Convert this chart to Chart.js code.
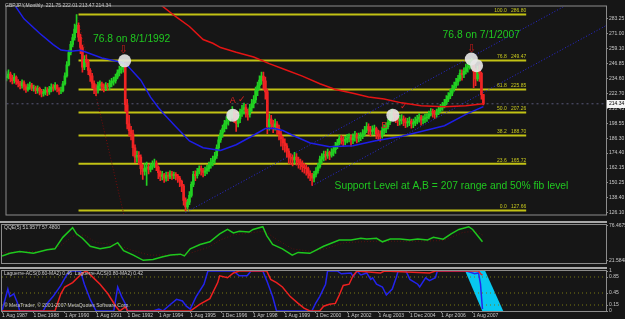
<!DOCTYPE html>
<html>
<head>
<meta charset="utf-8">
<script src="https://cdn.jsdelivr.net/npm/chart.js@4.4.1/dist/chart.umd.min.js"></script>
<style>
  html, body { margin: 0; padding: 0; background: #161616; }
  #wrap { position: relative; width: 625px; height: 319px; background: #161616; overflow: hidden; }
  canvas { position: absolute; left: 0; }
</style>
</head>
<body>
<div id="wrap">
  <canvas id="main" width="625" height="221" style="top:0px"></canvas>
  <canvas id="qqe" width="625" height="46" style="top:221px"></canvas>
  <canvas id="lag" width="625" height="52" style="top:267px"></canvas>
</div>
<script>
// monthly GBPJPY bars, Aug 1987 .. Jan 2008 (bar index 0 = Aug 1987)
const firstOpen = 235.5;
const closes = [
  236.8,238.5,235.0,233.2,236.0,232.5,230.8,229.0,231.5,228.4,226.0,227.8,
  229.5,227.0,227.2,225.0,226.8,224.5,222.8,223.6,225.5,224.0,226.2,228.0,
  227.0,229.3,226.5,224.8,225.0,230.5,237.0,246.0,256.0,262.5,268.0,275.0,
  278.0,268.5,260.0,244.0,250.5,248.0,241.5,237.0,231.0,227.0,225.5,229.0,
  230.5,228.0,227.0,229.5,228.2,231.0,232.5,233.0,236.0,239.5,242.0,243.5,
  245.0,213.6,198.0,192.6,190.0,178.7,171.0,172.6,171.0,161.7,159.4,162.0,
  163.0,161.0,163.5,164.8,166.0,163.0,158.5,155.5,156.8,154.0,156.2,155.5,
  157.5,156.0,157.0,155.8,154.0,151.5,147.8,136.0,130.7,134.5,140.0,149.0,
  157.0,156.0,159.4,161.7,160.2,158.6,160.0,161.7,164.5,167.0,168.7,172.0,
  178.7,185.0,190.5,194.2,198.0,200.5,203.5,206.0,208.0,203.5,198.5,202.0,
  207.0,209.5,211.3,208.0,205.8,211.0,214.5,217.4,225.0,229.0,233.5,236.8,
  233.0,224.0,195.8,202.0,198.0,195.8,198.0,194.5,190.0,186.0,182.6,180.3,
  176.0,171.0,170.0,168.7,171.0,169.0,167.0,165.5,163.3,162.5,161.7,157.8,
  156.0,154.0,157.0,160.0,163.3,169.5,171.0,173.3,172.0,174.9,172.6,175.0,
  177.2,180.0,182.6,186.5,185.0,184.0,185.5,186.5,187.2,185.0,187.0,188.8,
  186.5,187.5,188.0,190.0,192.7,195.8,193.5,192.0,193.0,194.2,190.0,189.0,
  188.0,192.7,194.0,195.8,199.0,203.5,206.6,205.0,203.5,200.4,201.5,202.0,
  200.5,198.9,199.5,200.4,198.0,199.0,200.4,202.0,203.5,201.0,202.0,203.0,
  203.5,206.0,208.0,207.0,205.8,207.5,209.7,211.0,212.8,215.0,218.0,220.6,
  223.0,226.7,229.0,232.0,234.5,239.1,238.0,240.7,243.8,245.0,246.9,248.4,
  240.7,234.5,242.0,239.0,221.75,214.34
];
const highs = [
  240.5,242.0,240.0,237.5,238.8,237.0,234.0,232.5,233.8,233.0,230.0,230.5,
  232.0,231.0,229.5,228.8,229.0,228.0,226.0,226.0,228.0,227.5,228.5,230.5,
  230.0,231.5,230.0,227.5,228.0,232.5,239.5,248.5,258.0,265.0,271.0,279.0,
  286.8,280.0,271.0,262.0,253.5,254.0,250.0,243.0,239.0,233.0,230.0,232.0,
  233.0,232.0,230.5,231.5,231.0,233.5,235.0,236.0,238.5,242.0,245.0,247.0,
  249.5,247.0,218.0,205.0,196.0,193.0,181.0,176.0,175.5,173.0,165.0,166.0,
  167.0,165.5,166.0,168.0,169.5,168.0,164.0,160.0,159.5,158.0,159.0,159.0,
  160.0,159.5,159.0,158.5,157.0,155.5,152.5,149.0,138.0,137.0,143.0,151.0,
  159.5,160.0,162.0,164.0,164.0,162.0,163.0,164.5,167.0,170.0,172.0,175.0,
  181.0,188.0,193.0,197.0,201.0,204.0,207.0,209.5,212.0,209.0,206.0,205.0,
  210.0,213.0,215.0,214.0,210.0,214.0,218.0,221.0,228.0,232.0,237.0,240.0,
  240.0,236.0,226.0,206.0,205.0,201.0,202.0,200.0,197.0,192.0,188.0,186.0,
  182.0,178.0,174.0,173.0,175.0,174.0,171.0,169.5,168.0,166.0,165.0,163.0,
  160.0,158.0,159.5,162.5,166.0,172.0,174.0,176.0,176.0,177.5,176.0,178.0,
  180.0,183.0,185.5,189.0,188.5,187.5,188.0,189.5,190.0,189.0,190.0,192.0,
  190.5,190.5,191.0,193.5,196.0,199.0,198.0,196.0,196.5,197.0,195.5,193.0,
  192.5,195.5,197.0,199.0,202.0,206.5,210.0,209.0,207.0,205.0,205.0,205.5,
  204.5,203.0,202.5,203.5,202.0,202.0,203.5,205.0,206.5,205.0,204.5,206.0,
  206.5,208.5,210.5,210.0,209.0,210.0,212.0,214.0,215.5,218.0,221.0,223.5,
  226.0,229.5,232.0,235.0,237.5,242.0,242.0,243.5,246.5,248.0,250.0,251.5,
  249.0,243.0,245.0,246.0,240.0,222.01
];
const lows = [
  233.0,234.5,232.0,230.5,231.0,230.0,228.0,226.5,227.0,225.5,223.5,224.5,
  226.0,225.0,224.5,222.5,223.0,221.5,220.0,220.5,221.5,221.0,222.0,224.0,
  224.5,225.5,224.0,222.0,222.5,224.0,229.5,236.0,245.0,254.0,260.5,266.0,
  272.0,265.0,255.0,240.0,242.0,244.5,238.0,232.5,227.0,222.5,221.0,223.0,
  226.5,225.5,224.0,225.0,225.5,226.0,228.0,229.5,231.0,234.5,237.0,239.0,
  240.0,208.0,194.0,188.0,185.0,172.0,166.5,167.0,165.0,157.0,153.0,156.5,
  148.0,157.5,159.0,161.0,162.5,160.0,153.5,152.0,152.5,150.5,151.5,152.0,
  153.5,153.0,153.5,152.5,150.5,147.0,143.0,132.0,127.6,129.0,132.5,138.5,
  147.0,152.0,154.0,157.5,156.5,155.0,156.0,157.5,159.5,162.0,164.0,166.0,
  170.0,176.0,183.0,187.0,191.5,194.0,197.0,200.0,202.5,199.0,192.0,195.5,
  199.0,204.0,206.0,203.5,201.0,203.5,208.0,211.0,215.0,221.0,226.0,230.0,
  226.0,218.0,190.0,193.0,194.0,191.0,193.0,189.0,185.0,180.0,177.0,175.0,
  171.0,166.0,165.0,164.0,166.0,164.5,162.0,161.0,159.0,158.0,156.5,154.0,
  152.0,148.0,151.0,155.0,158.0,162.0,166.0,168.0,168.5,170.0,169.0,171.0,
  172.0,174.0,178.0,181.0,181.5,180.0,181.0,182.5,183.5,180.0,182.0,184.0,
  182.5,183.5,184.5,186.0,188.0,191.0,189.5,188.0,189.0,189.5,186.0,184.5,
  184.0,186.5,189.5,191.0,194.0,197.5,201.0,200.5,199.0,196.5,197.0,198.0,
  196.5,195.0,195.5,196.5,194.5,195.0,196.5,198.0,199.5,197.0,198.0,199.0,
  200.0,202.0,204.5,203.5,202.5,203.5,205.5,207.5,209.0,211.0,213.5,216.0,
  218.5,221.0,224.5,227.5,229.5,233.0,233.5,235.5,238.5,240.0,242.5,243.0,
  227.5,229.0,233.0,232.5,218.0,213.47
];

const priceTicks = [283.25, 271.00, 259.10, 246.85, 234.60, 222.70, 210.45, 198.55, 186.30, 174.40, 162.15, 150.25, 138.40, 126.10];
const dateTickBars = [0, 16, 32, 48, 64, 80, 96, 112, 128, 144, 160, 176, 192, 208, 224, 240];
const dateLabels = ['1 Aug 1987', '1 Dec 1988', '1 Apr 1990', '1 Aug 1991', '1 Dec 1992', '1 Apr 1994', '1 Aug 1995', '1 Dec 1996',
  '1 Apr 1998', '1 Aug 1999', '1 Dec 2000', '1 Apr 2002', '1 Aug 2003', '1 Dec 2004', '1 Apr 2006', '1 Aug 2007'];

// fibonacci retracement
const fibRatios = ['100.0', '76.8', '61.8', '50.0', '38.2', '23.6', '0.0'];
const fibPrices = [286.80, 249.47, 225.85, 207.26, 188.70, 165.72, 127.66];
const fibBars = [37, 267];
const fibTrendBars = [36.2, 60.5];
const fibTrendValues = [286.8, 123.0];

// moving averages
const maFastBars = [1, 4, 9, 17, 24, 28, 33, 38, 41, 49, 59, 62, 69, 74, 78, 81, 87, 94, 101, 110, 118, 126, 133, 137, 142, 147, 156, 166, 178, 189, 203, 213, 225, 236, 245];
const maFastValues = [301, 294.9, 283.3, 271.6, 262.4, 258.0, 257.0, 257.7, 256.2, 251.5, 248.0, 245.6, 233.5, 219.7, 211.3, 205.8, 195.8, 184.2, 178.7, 176.4, 181.1, 188.0, 194.2, 194.5, 192.7, 188.8, 182.6, 179.5, 180.3, 184.2, 188.0, 191.9, 196.5, 205.8, 212.0];
const maSlowBars = [75, 79, 87, 94, 101, 106, 110, 118, 127, 135, 143, 152, 161, 169, 178, 186, 194, 203, 213, 225, 236, 245];
const maSlowValues = [299, 294.9, 285.0, 277.1, 266.5, 263.5, 260.0, 256.2, 252.3, 246.9, 242.2, 236.8, 230.6, 226.0, 222.9, 219.8, 218.2, 215.1, 212.8, 212.0, 212.8, 214.3];

// channel lines
const channelUpperBars = [92, 308];
const channelUpperValues = [126.1, 311.9];
const channelLowerBars = [157, 308];
const channelLowerValues = [147.8, 277.8];

// circled touches
const circleBars = [60.7, 116.3, 198.5, 238.8, 241.5];
const circlePrices = [249.2, 205.1, 205.1, 250.7, 245.3];

// QQE panel
const qqeTicks = [76.4675, 21.5848];
const qqeBars = [0,4,9,16,23,27,31,36,38,41,45,50,55,59,62,67,72,77,82,86,91,93,96,101,106,111,115,118,121,126,128,133,135,138,143,148,151,157,164,172,178,183,186,191,194,198,203,208,212,217,220,225,229,233,238,240,245];
const qqeValues = [28.6,32.8,35.7,32.8,38.5,39.9,58.2,73.7,63.8,56.8,44.1,39.9,42.7,49.7,37.1,30.0,21.6,23.0,27.2,30.0,31.4,28.6,39.9,46.9,51.1,63.8,70.8,65.2,68.0,66.6,70.8,75.1,61.0,46.9,39.9,30.0,34.2,32.8,44.1,54.0,54.0,56.8,55.4,56.8,51.1,55.4,55.4,54.0,55.4,54.0,58.2,55.4,63.8,70.8,75.1,70.8,51.1];
const qqeSlowBars = [0,20,30,36,42,48,60,66,75,90,96,105,112,118,128,134,140,148,157,165,175,190,210,225,235,241,245];
const qqeSlowValues = [34,36,45,60,62,50,45,38,30,30,33,42,55,62,66,68,55,40,36,40,50,52,52,53,66,68,62];

// Laguerre panel
const lagTicks = [1, 0.85, 0.45, 0.15, 0];
const lagLevels = [0.85, 0.45, 0.15];
const lagFastBars = [0,3,4,6,8,9,21,23,26,30,33,35,40,42,45,48,57,59,61,63,64,77,80,82,86,89,92,94,96,99,103,105,118,121,125,127,133,135,138,140,158,160,162,165,166,171,173,178,179,181,183,186,188,189,191,194,196,199,201,202,206,208,212,213,216,218,221,222,237,241,243,244,245];
const lagFastValues = [0,.55,.36,.43,.19,0,0,.19,.36,.64,.9,1,1,.67,.29,0,0,.6,.36,.17,0,0,.05,0,.17,.29,.25,.12,.05,.36,.67,1,1,.88,.88,1,1,.76,.36,0,0,.2,.36,.67,1,1,.93,.95,.86,1,.9,.95,.79,.83,.67,.6,.4,.55,.83,1,1,.79,.67,.6,.83,.76,.83,1,1,.93,.95,.67,.05];
const lagSlowBars = [0,27,30,32,36,41,43,46,50,54,58,60,62,63,64,96,101,106,110,111,115,118,121,135,137,140,143,147,151,154,157,162,164,167,170,172,174,177,179,181,193,195,218,221,243,244,245];
const lagSlowValues = [0,0,.43,.6,.71,.95,1,.86,.67,.43,.12,0,.07,.1,0,0,.17,.31,.71,.88,.83,.95,1,1,.79,.71,.6,.36,.19,.07,0,0,.12,.17,.19,.4,.64,.67,.88,1,.95,1,.95,1,1,.93,.9];
const cyanBars = [236.2, 246.4, 255.6, 244.9];
const cyanValues = [1, 1, 0, 0];

// ---------------------------------------------------------------
const opens = closes.map((c, i) => (i === 0 ? firstOpen : closes[i - 1]));
const lastClose = closes[closes.length - 1];
const FONT = '"Liberation Sans", "DejaVu Sans", sans-serif';
const BULL = '#22d022';
const BEAR = '#f02424';
const AXIS_COLOR = '#8c8c8c';
const LABEL_COLOR = '#c8c8c8';

const pts = (xs, ys) => xs.map((x, k) => ({ x: x, y: ys[k] }));
const candleColor = (ctx) => (closes[ctx.dataIndex] >= opens[ctx.dataIndex] ? BULL : BEAR);

function lineDs(data, color, width, dash, order) {
  return { type: 'line', data: data, borderColor: color, borderWidth: width, borderDash: dash,
    pointRadius: 0, fill: false, tension: 0, order: order };
}

const xScale = { type: 'linear', min: 0, max: 308, offset: false, display: false };

function rightAxis(min, max, tickValues, fmt) {
  return {
    position: 'right', min: min, max: max,
    afterFit: (s) => { s.width = 19; },
    afterBuildTicks: (s) => { s.ticks = tickValues.map((v) => ({ value: v })); },
    ticks: { autoSkip: false, color: LABEL_COLOR, font: { family: FONT, size: 5 }, padding: 1, callback: fmt },
    grid: { drawOnChartArea: false, drawTicks: true, tickLength: 2, color: AXIS_COLOR },
    border: { display: false }
  };
}

function frame(ctx, a, separator) {
  ctx.save();
  ctx.strokeStyle = AXIS_COLOR;
  ctx.lineWidth = 1;
  ctx.strokeRect(a.left - 0.5, a.top - 0.5, a.width + 1, a.height + 1);
  if (separator) {
    ctx.fillStyle = '#a8a8a8';
    ctx.fillRect(0, 0, a.right + 1, 2);
  }
  ctx.restore();
}

// text notes on the price panel
const notes = [
  { text: '76.8 on 8/1/1992', bar: 64.3, price: 267.0, color: '#20c820', size: 10.3 },
  { text: '76.8 on 7/1/2007', bar: 243.9, price: 270.1, color: '#20c820', size: 10.3 },
  { text: 'Support Level at A,B = 207 range and 50% fib level', bar: 228.6, price: 147.8, color: '#20c820', size: 10.3 },
  { text: 'A', bar: 116.3, price: 217.4, color: '#e02020', size: 9 },
  { text: '\u2713', bar: 120.9, price: 218.2, color: '#e02020', size: 9 },
  { text: 'B', bar: 194.1, price: 196.9, color: '#e02020', size: 9 },
  { text: '\u2713', bar: 204.1, price: 212.0, color: '#e02020', size: 9 },
  { text: '\u21e9', bar: 60.0, price: 257.7, color: '#c41818', size: 11 },
  { text: '\u21e9', bar: 239.0, price: 258.5, color: '#c41818', size: 11 }
];

const mainOverlay = {
  id: 'mainOverlay',
  afterDatasetsDraw(chart) {
    const { ctx, scales: { x, y } } = chart;
    ctx.save();
    ctx.font = '5px ' + FONT;
    ctx.fillStyle = '#c8c81e';
    ctx.textAlign = 'right';
    ctx.textBaseline = 'bottom';
    fibPrices.forEach((p, k) => {
      ctx.fillText(fibRatios[k] + '   ' + p.toFixed(2), x.getPixelForValue(fibBars[1]), y.getPixelForValue(p) - 1);
    });
    ctx.textAlign = 'center';
    ctx.textBaseline = 'middle';
    notes.forEach((n) => {
      ctx.font = n.size + 'px ' + FONT;
      ctx.fillStyle = n.color;
      ctx.fillText(n.text, x.getPixelForValue(n.bar), y.getPixelForValue(n.price));
    });
    ctx.restore();
  },
  afterDraw(chart) {
    const { ctx, chartArea: a, scales: { y } } = chart;
    frame(ctx, a, false);
    ctx.save();
    ctx.font = '5px ' + FONT;
    ctx.fillStyle = LABEL_COLOR;
    ctx.textBaseline = 'middle';
    ctx.fillText('GBPJPY,Monthly  221.75 222.01 213.47 214.34', 5, 6);
    const py = Math.round(y.getPixelForValue(lastClose));
    ctx.fillStyle = '#f4f4f4';
    ctx.fillRect(a.right + 1, py - 4, 625 - a.right - 1, 8);
    ctx.fillStyle = '#000';
    ctx.fillText(lastClose.toFixed(2), a.right + 3, py);
    ctx.restore();
  }
};

new Chart(document.getElementById('main'), {
  type: 'bar',
  data: {
    datasets: [
      ...fibPrices.map((p) => lineDs(pts(fibBars, [p, p]), '#c2c214', 2, [], 20)),
      lineDs(pts(channelUpperBars, channelUpperValues), '#2a2ad8', 1, [1, 2], 19),
      lineDs(pts(channelLowerBars, channelLowerValues), '#2a2ad8', 1, [1, 2], 19),
      lineDs(pts([0, 308], [lastClose, lastClose]), '#58587a', 1, [2, 3], 19),
      lineDs(pts(fibTrendBars, fibTrendValues), '#7a0c0c', 1, [1, 2], 19),
      { type: 'bar', data: closes.map((c, i) => ({ x: i, y: [lows[i], highs[i]] })),
        backgroundColor: candleColor, barThickness: 1, grouped: false, order: 12 },
      { type: 'bar', data: closes.map((c, i) => ({ x: i, y: [opens[i], c] })),
        backgroundColor: candleColor, barThickness: 2, grouped: false, order: 11 },
      lineDs(pts(maSlowBars, maSlowValues), '#e41414', 1.5, [], 5),
      lineDs(pts(maFastBars, maFastValues), '#1e1ee8', 1.5, [], 5),
      { type: 'bubble', data: circleBars.map((b, k) => ({ x: b, y: circlePrices[k], r: 6.5 })),
        backgroundColor: 'rgba(232,232,232,0.9)', borderWidth: 0, order: 2 }
    ]
  },
  options: {
    responsive: false, animation: false, devicePixelRatio: 1, events: [],
    layout: { padding: { left: 2, top: 2, bottom: 1, right: 0 } },
    plugins: { legend: { display: false }, tooltip: { enabled: false } },
    scales: {
      x: xScale,
      y: rightAxis(124.5, 293.3, priceTicks, (v) => Number(v).toFixed(2))
    }
  },
  plugins: [mainOverlay]
});

// QQE
new Chart(document.getElementById('qqe'), {
  type: 'line',
  data: {
    datasets: [
      lineDs(pts(qqeSlowBars, qqeSlowValues), '#5a1010', 1, [1, 2], 6),
      lineDs(pts(qqeBars, qqeValues), '#1ec81e', 1.5, [], 2)
    ]
  },
  options: {
    responsive: false, animation: false, devicePixelRatio: 1, events: [],
    layout: { padding: { left: 2, top: 2, bottom: 1, right: 0 } },
    plugins: { legend: { display: false }, tooltip: { enabled: false } },
    scales: {
      x: xScale,
      y: rightAxis(17.363, 77.875, qqeTicks, (v) => Number(v).toFixed(4))
    }
  },
  plugins: [{
    id: 'qqeFrame',
    afterDraw(chart) {
      const { ctx, chartArea: a } = chart;
      frame(ctx, a, true);
      ctx.save();
      ctx.font = '5px ' + FONT;
      ctx.fillStyle = LABEL_COLOR;
      ctx.textBaseline = 'middle';
      ctx.fillText('QQE(5) 51.9577 57.4800', 4, 7);
      ctx.restore();
    }
  }]
});

// Laguerre
new Chart(document.getElementById('lag'), {
  type: 'line',
  data: {
    datasets: [
      ...lagLevels.map((v) => lineDs(pts([0, 308], [v, v]), '#7a7a10', 1, [1, 3], 20)),
      lineDs(pts(lagFastBars, lagFastValues), '#2323ee', 1.5, [], 6),
      lineDs(pts(lagSlowBars, lagSlowValues), '#ee2020', 1.5, [], 4)
    ]
  },
  options: {
    responsive: false, animation: false, devicePixelRatio: 1, events: [],
    layout: { padding: { left: 2, top: 2, bottom: 0, right: 0 } },
    plugins: { legend: { display: false }, tooltip: { enabled: false } },
    scales: {
      x: {
        type: 'linear', min: 0, max: 308, offset: false, position: 'bottom',
        afterFit: (s) => { s.height = 8; },
        afterBuildTicks: (s) => { s.ticks = dateTickBars.map((v) => ({ value: v })); },
        ticks: { autoSkip: false, maxRotation: 0, align: 'start', padding: 0, color: LABEL_COLOR,
          font: { family: FONT, size: 5 },
          callback: (v) => { const k = dateTickBars.indexOf(v); return k >= 0 ? dateLabels[k] : ''; } },
        grid: { drawOnChartArea: false, drawTicks: true, tickLength: 2, color: AXIS_COLOR },
        border: { display: false }
      },
      y: rightAxis(0, 1, lagTicks, (v) => String(v))
    }
  },
  plugins: [{
    id: 'lagCyan',
    beforeDatasetsDraw(chart) {
      const { ctx, chartArea: a, scales: { x, y } } = chart;
      ctx.save();
      ctx.beginPath();
      ctx.rect(a.left, a.top, a.width, a.height);
      ctx.clip();
      ctx.beginPath();
      cyanBars.forEach((b, k) => {
        const px = x.getPixelForValue(b), py = y.getPixelForValue(cyanValues[k]);
        if (k === 0) ctx.moveTo(px, py); else ctx.lineTo(px, py);
      });
      ctx.closePath();
      ctx.fillStyle = '#08c8f0';
      ctx.fill();
      ctx.restore();
    },
    afterDraw(chart) {
      const { ctx, chartArea: a } = chart;
      frame(ctx, a, true);
      ctx.save();
      ctx.font = '5px ' + FONT;
      ctx.fillStyle = LABEL_COLOR;
      ctx.textBaseline = 'middle';
      ctx.fillText('Laguerre-ACS(0.60-MA2) 0.46  Laguerre-ACS(0.80-MA2) 0.42', 4, 7);
      ctx.fillText('\u00a9 MetaTrader, \u00a9 2001-2007 MetaQuotes Software Corp.', 4, 39);
      ctx.restore();
    }
  }]
});
</script>
</body>
</html>
